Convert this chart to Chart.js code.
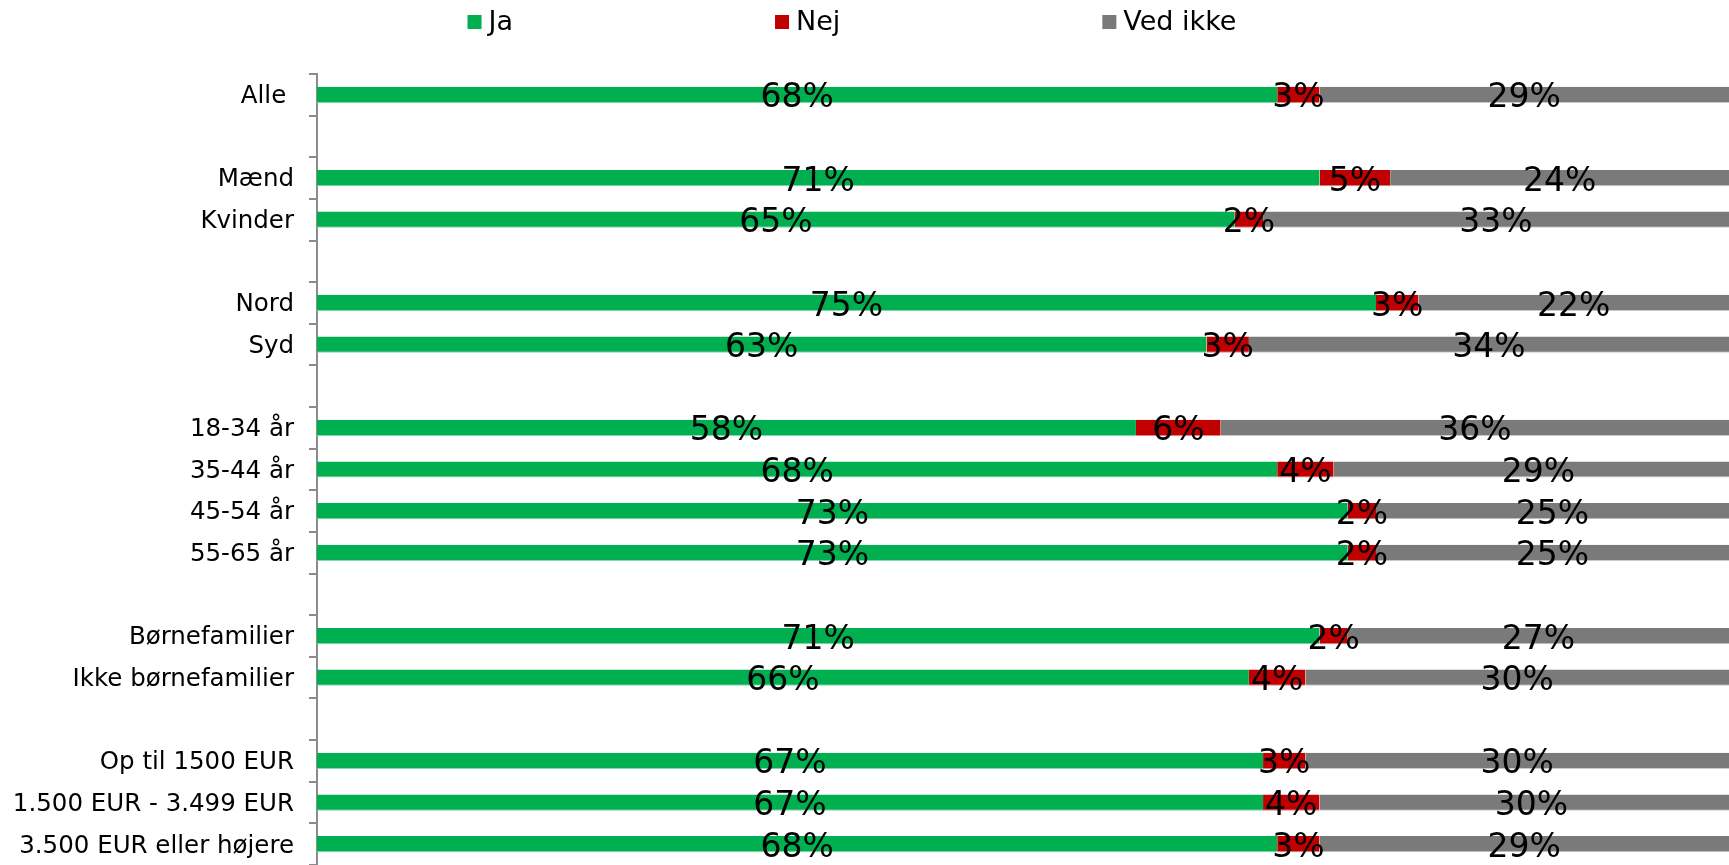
<!DOCTYPE html>
<html>
<head>
<meta charset="utf-8">
<title>Ja / Nej / Ved ikke</title>
<script src="https://cdn.jsdelivr.net/npm/chart.js@4.4.1/dist/chart.umd.min.js"></script>
<style>
  html, body { margin: 0; padding: 0; background: #fff; }
  canvas { display: block; }
</style>
</head>
<body>
<canvas id="chart" width="1729" height="865"></canvas>
<script>
// Categories (empty strings are spacer rows between groups)
const categories = [
    'Alle ', '',
    'Mænd', 'Kvinder', '',
    'Nord', 'Syd', '',
    '18-34 år', '35-44 år', '45-54 år', '55-65 år', '',
    'Børnefamilier', 'Ikke børnefamilier', '',
    'Op til 1500 EUR', '1.500 EUR - 3.499 EUR', '3.500 EUR eller højere'
];
const jaValues      = [68, null, 71, 65, null, 75, 63, null, 58, 68, 73, 73, null, 71, 66, null, 67, 67, 68];
const nejValues     = [3,  null, 5,  2,  null, 3,  3,  null, 6,  4,  2,  2,  null, 2,  4,  null, 3,  4,  3];
const vedIkkeValues = [29, null, 24, 33, null, 22, 34, null, 36, 29, 25, 25, null, 27, 30, null, 30, 30, 29];
const seriesNames = ['Ja', 'Nej', 'Ved ikke'];

const FONT = '"DejaVu Sans", Verdana, sans-serif';
const seriesColors = ['#00B050', '#C00000', '#7A7A7A'];
const edgeColors = ['#7fd8a7', '#e08080', '#c8c8c8'];

/**
 * Draw the percentage label centred in every bar segment
 */
const barLabels = {
    id: 'barLabels',
    afterDatasetsDraw(chart) {
        const ctx = chart.ctx;
        ctx.save();
        ctx.font = '33px ' + FONT;
        ctx.fillStyle = '#000';
        ctx.textAlign = 'center';
        ctx.textBaseline = 'middle';
        chart.data.datasets.forEach((ds, di) => {
            chart.getDatasetMeta(di).data.forEach((bar, i) => {
                const v = ds.data[i];
                if (v === null || v === undefined) return;
                const p = bar.getProps(['x', 'y', 'base'], true);
                ctx.fillText(v + '%', (p.x + p.base) / 2, p.y + 4);
            });
        });
        ctx.restore();
    }
};

/**
 * Widely spaced legend along the top (the built-in one ties vertical
 * padding to horizontal padding)
 */
const topLegend = {
    id: 'topLegend',
    afterDraw(chart) {
        const ctx = chart.ctx;
        const box = 14, gap = 7, spacing = 262, centerX = 852, midY = 22;
        ctx.save();
        ctx.font = '27px ' + FONT;
        ctx.textBaseline = 'middle';
        ctx.textAlign = 'left';
        const widths = chart.data.datasets.map(ds => box + gap + ctx.measureText(ds.label).width);
        const total = widths.reduce((a, b) => a + b, 0) + spacing * (widths.length - 1);
        let x = centerX - total / 2;
        chart.data.datasets.forEach((ds, i) => {
            ctx.fillStyle = ds.backgroundColor;
            ctx.fillRect(x, midY - box / 2, box, box);
            ctx.fillStyle = '#000';
            ctx.fillText(ds.label, x + box + gap, midY + 1);
            x += widths[i] + spacing;
        });
        ctx.restore();
    }
};

const seriesData = [jaValues, nejValues, vedIkkeValues];

const config = {
    type: 'bar',
    data: {
        labels: categories,
        datasets: seriesNames.map((name, i) => ({
            label: name,
            data: seriesData[i],
            backgroundColor: seriesColors[i],
            borderColor: edgeColors[i],
            borderWidth: { top: 0, right: 0, bottom: 1, left: 0 },
            borderSkipped: false,
            categoryPercentage: 1,
            barPercentage: 0.39
        }))
    },
    options: {
        indexAxis: 'y',
        responsive: false,
        animation: false,
        layout: {
            // plot runs slightly past the right and bottom edges, as in the original
            padding: { top: 74, right: -3, bottom: -3, left: 0 }
        },
        plugins: {
            legend: { display: false },
            tooltip: { enabled: false }
        },
        scales: {
            x: {
                display: false,
                stacked: true,
                min: 0,
                max: 100
            },
            y: {
                stacked: true,
                afterFit(scale) {
                    // fixed axis width; drop the half-label padding at the ends
                    scale.width = 317;
                    scale.paddingTop = 0;
                    scale.paddingBottom = 0;
                },
                grid: {
                    display: true,
                    offset: true,
                    drawOnChartArea: false,
                    drawTicks: true,
                    tickLength: 8,
                    color: '#8c8c8c',
                    lineWidth: 2
                },
                border: {
                    display: true,
                    color: '#8c8c8c',
                    width: 2
                },
                ticks: {
                    autoSkip: false,
                    padding: 15,
                    labelOffset: 2,
                    color: '#000',
                    font: { family: FONT, size: 24.5 }
                }
            }
        }
    },
    plugins: [barLabels, topLegend]
};

new Chart(document.getElementById('chart').getContext('2d'), config);
</script>
</body>
</html>
